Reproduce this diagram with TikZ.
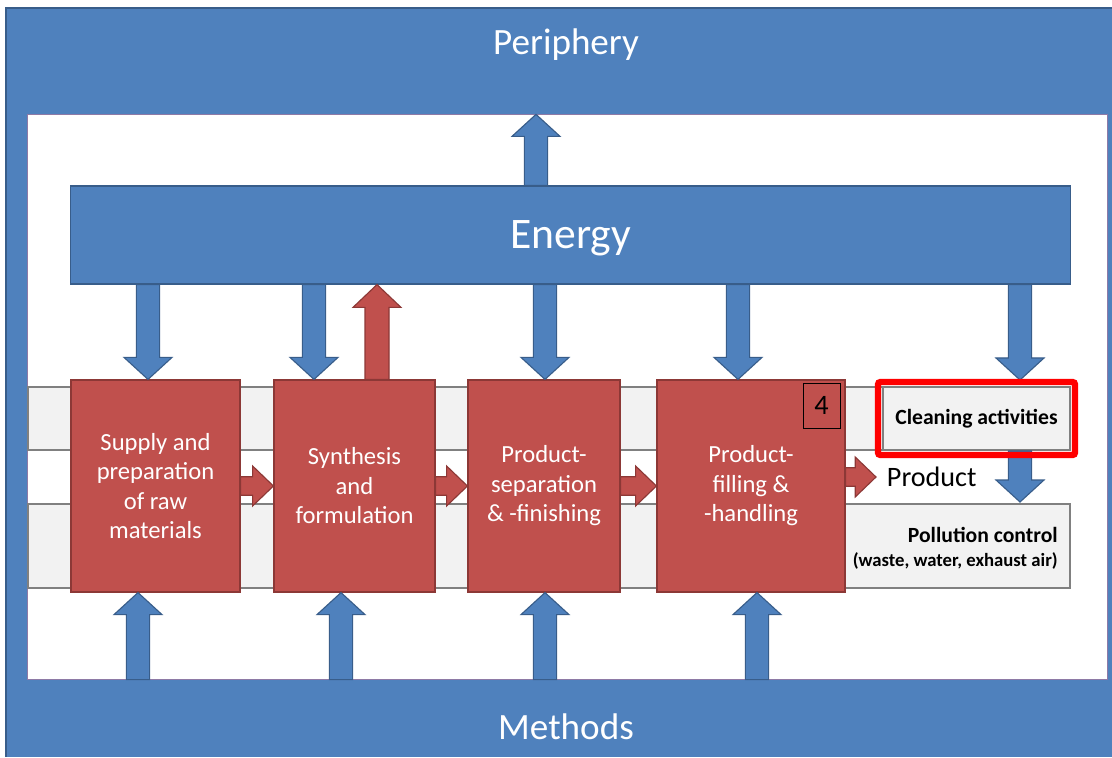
\documentclass[tikz,border=0pt]{standalone}
\usepackage{fontspec}
\setmainfont{Carlito}
\usetikzlibrary{calc, fit}

\definecolor{bluefill}{HTML}{4F81BD}
\definecolor{blueline}{HTML}{385D8A}
\definecolor{redfill}{HTML}{C0504D}
\definecolor{redline}{HTML}{8C3836}
\definecolor{bandfill}{HTML}{F2F2F2}
\definecolor{bandline}{HTML}{808080}
\definecolor{frameline}{HTML}{8E7AA6}

\begin{document}
\begin{tikzpicture}[x=0.025cm, y=-0.025cm,
	blu/.style={fill=bluefill, draw=blueline, line width=0.8pt},
	rd/.style={fill=redfill, draw=redline, line width=0.8pt},
	band/.style={fill=bandfill, draw=bandline, line width=1.4pt},
	stage/.style={rd, text=white, align=center, minimum height=5.3cm, inner sep=2pt, font=\fontsize{17.5}{21}\selectfont},
	fat/.style={to path={
		($(\tikztostart)!\fs!90:(\tikztotarget)$) --
		($(\tikztotarget)!\fl!(\tikztostart)!\fs!-90:(\tikztostart)$) --
		($(\tikztotarget)!\fl!(\tikztostart)!\fh!-90:(\tikztostart)$) --
		(\tikztotarget) --
		($(\tikztotarget)!\fl!(\tikztostart)!\fh!90:(\tikztostart)$) --
		($(\tikztotarget)!\fl!(\tikztostart)!\fs!90:(\tikztostart)$) --
		($(\tikztostart)!\fs!-90:(\tikztotarget)$) -- cycle}},
	bfat/.style={blu, fat, /utils/exec={\def\fs{0.29cm}\def\fh{0.6cm}\def\fl{0.55cm}}},
	rfat/.style={rd, fat, /utils/exec={\def\fs{0.3cm}\def\fh{0.6cm}\def\fl{0.57cm}}},
	hfat/.style={rd, fat, /utils/exec={\def\fs{0.23cm}\def\fh{0.5cm}\def\fl{0.52cm}}}]
	\useasboundingbox (0,0) rectangle (1112,757);
	\fill[bluefill] (6,8) rectangle (1112,757); %外枠
	\draw[blueline, line width=1.5pt] (1112,8) -- (6,8) -- (6,757);
	\node[draw=frameline, fill=white, line width=0.8pt, inner sep=0pt, minimum width=26.975cm, minimum height=14.1cm] (inner) at (567.5,397) {};
	\node[text=white, font=\fontsize{26.4}{30}\selectfont] (peri) at (566,45) {Periphery};
	\node[text=white, font=\fontsize{26.4}{30}\selectfont] (meth) at (566,727) {Methods};
	\draw[band] (28,387) rectangle (1070,450); %帯
	\draw[band] (28,504) rectangle (1070,588);
	\node[blu, text=white, text depth=0pt, minimum width=24.975cm, minimum height=2.45cm, font=\fontsize{31}{36}\selectfont] (en) at (570.5,235) {Energy};
	\node[stage, minimum width=4.225cm] (sup) at (155.5,486) {Supply and\\preparation\\of raw\\materials};
	\node[stage, minimum width=4.025cm] (syn) at (354.5,486) {Synthesis\\and\\formulation};
	\node[stage, minimum width=3.8cm] (sep) at (544,486) {Product-\\separation\\\& -finishing};
	\node[stage, minimum width=4.7cm] (fil) at (751,486) {Product-\\filling \&\\-handling};
	\node[draw=black, fill=redfill, line width=0.6pt, minimum width=0.925cm, minimum height=1.125cm, inner sep=0pt, font=\fontsize{20}{24}\selectfont] (four) at (821.5,405.5) {4};
	\node[band, minimum width=4.675cm, minimum height=1.575cm, inner sep=0pt, font=\bfseries\fontsize{15.4}{18}\selectfont] (clean) at (976.5,418.5) {Cleaning activities};
	\node[anchor=east, align=right, inner sep=0pt, font=\bfseries\fontsize{15.4}{17}\selectfont] (poll) at (1058,548.5) {Pollution control\\{\fontsize{13.3}{15}\selectfont (waste, water, exhaust air)}};
	\node[anchor=west, font=\fontsize{20}{24}\selectfont] (prod) at (882,477) {Product};
	% 矢印
	\draw[bfat] (536,0 |- en.north) to (536,0 |- inner.north);
	\draw[bfat] (148,0 |- en.south) to (148,0 |- sup.north);
	\draw[bfat] (314,0 |- en.south) to (314,0 |- syn.north);
	\draw[rfat] (377,0 |- syn.north) to (377,0 |- en.south);
	\draw[bfat] (545,0 |- en.south) to (545,0 |- sep.north);
	\draw[bfat] (738,0 |- en.south) to (738,0 |- fil.north);
	\draw[bfat] (1020,0 |- en.south) to (1020,380);
	\draw[bfat] (1020,0 |- clean.south) to (1020,502);
	\foreach \x/\b in {138/sup, 341/syn, 545/sep, 757/fil}
		\draw[bfat] (\x,0 |- inner.south) to (\x,0 |- \b.south);
	\draw[hfat] (sup.east) to (syn.west);
	\draw[hfat] (syn.east) to (sep.west);
	\draw[hfat] (sep.east) to (fil.west);
	\draw[hfat] (fil.east |- 0,477) to (876,477);
	\node[draw=red, line width=4.3pt, rounded corners=1.5pt, inner sep=0.1cm, fit=(clean)] (hl) {}; %赤枠
\end{tikzpicture}
\end{document}
